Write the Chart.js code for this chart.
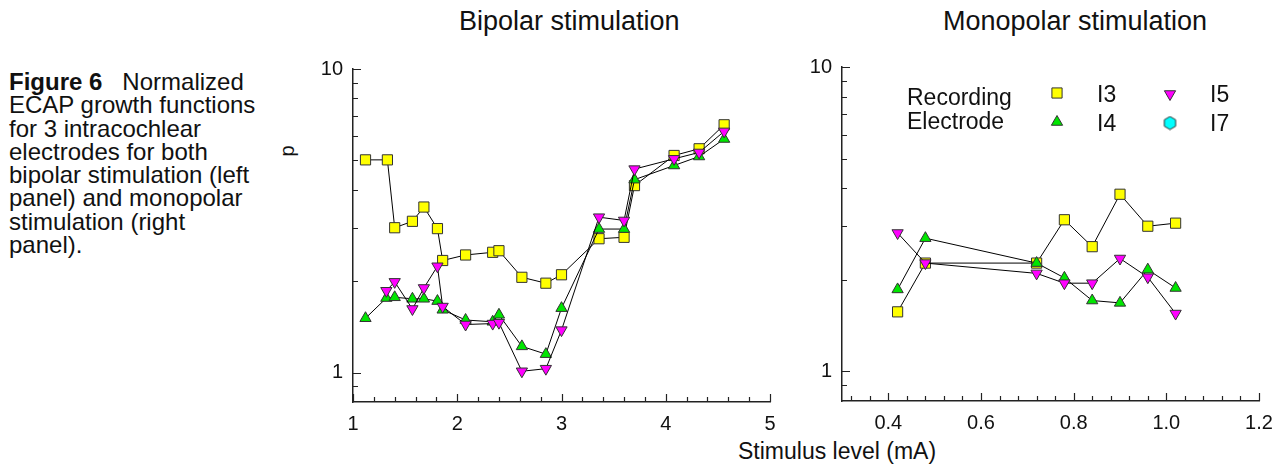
<!DOCTYPE html>
<html>
<head>
<meta charset="utf-8">
<script src="https://cdn.jsdelivr.net/npm/chart.js@4.4.1/dist/chart.umd.min.js"></script>
<style>
  html, body { margin: 0; padding: 0; background: #fff; }
  body { width: 1287px; height: 464px; position: relative; overflow: hidden;
         font-family: "Liberation Sans", Arial, sans-serif; color: #111; }
  .txt { position: absolute; white-space: nowrap; }
  #caption { left: 9px; top: 70px; font-size: 24px; line-height: 23.3px; }
  .ttl { top: 8px; font-size: 27px; line-height: 27px; }
  #xlabel { left: 738px; top: 440px; font-size: 23px; line-height: 23px; }
  #ylabel { left: 281px; top: 141px; font-size: 20px; line-height: 20px; transform: rotate(-90deg); }
  canvas { position: absolute; top: 0; }
</style>
</head>
<body>
<div id="caption" class="txt"><b>Figure 6</b>&nbsp;&nbsp; Normalized<br>ECAP growth functions<br>for 3 intracochlear<br>electrodes for both<br>bipolar stimulation (left<br>panel) and monopolar<br>stimulation (right<br>panel).</div>
<div class="txt ttl" style="left:459px">Bipolar stimulation</div>
<div class="txt ttl" style="left:943px">Monopolar stimulation</div>
<div id="xlabel" class="txt">Stimulus level (mA)</div>
<div id="ylabel" class="txt">p</div>
<canvas id="bipolar" style="left:270px" width="520" height="464"></canvas>
<canvas id="monopolar" style="left:790px" width="497" height="464"></canvas>
<script>
// Bipolar stimulation, stimulus level (mA)
const biI3x = [1.12, 1.33, 1.40, 1.57, 1.68, 1.81, 1.86, 2.08, 2.34, 2.40, 2.62, 2.85, 3.00, 3.36, 3.60, 3.70, 4.08, 4.32, 4.56];
const biI3  = [5.02, 5.02, 3.00, 3.15, 3.51, 2.98, 2.34, 2.44, 2.49, 2.52, 2.06, 1.97, 2.10, 2.76, 2.79, 4.13, 5.19, 5.46, 6.55];
const biI4x = [1.12, 1.32, 1.40, 1.57, 1.68, 1.81, 1.86, 2.08, 2.34, 2.40, 2.62, 2.85, 3.00, 3.36, 3.60, 3.70, 4.08, 4.32, 4.56];
const biI4  = [1.51, 1.76, 1.77, 1.75, 1.75, 1.72, 1.61, 1.49, 1.47, 1.55, 1.22, 1.15, 1.63, 2.97, 2.97, 4.32, 4.81, 5.15, 5.88];
const biI5x = [1.32, 1.40, 1.57, 1.68, 1.81, 1.86, 2.08, 2.34, 2.40, 2.62, 2.85, 3.00, 3.36, 3.60, 3.70, 4.08, 4.32, 4.56];
const biI5  = [1.86, 1.99, 1.62, 1.90, 2.24, 1.65, 1.44, 1.45, 1.46, 1.01, 1.03, 1.38, 3.25, 3.17, 4.68, 5.06, 5.31, 6.23];

// Monopolar stimulation
const monoX  = [0.42, 0.48, 0.72, 0.78, 0.84, 0.90, 0.96, 1.02];
const monoI3 = [1.57, 2.27, 2.27, 3.15, 2.57, 3.82, 3.00, 3.07];
const monoI4 = [1.86, 2.74, 2.27, 2.03, 1.71, 1.68, 2.16, 1.88];
const monoI5 = [2.85, 2.27, 2.10, 1.95, 1.95, 2.35, 2.04, 1.55];
const monoI7 = [];

// axis ticks
const yLabels    = [1, 10];
const yMinor     = [0.9, 2, 3, 4, 5, 6, 7, 8, 9];
const biXLabels  = [1, 2, 3, 4, 5];
const biXMinor   = [1.2, 1.4, 1.6, 1.8, 2.2, 2.4, 2.6, 2.8, 3.2, 3.4, 3.6, 3.8, 4.2, 4.4, 4.6, 4.8];
const monoXLabels = [0.4, 0.6, 0.8, 1.0, 1.2];
const monoXMinor  = [0.32, 0.36, 0.44, 0.48, 0.52, 0.56, 0.64, 0.68, 0.72, 0.76, 0.84, 0.88, 0.92, 0.96, 1.04, 1.08, 1.12, 1.16];

const electrodes = ['I3', 'I4', 'I5', 'I7'];

const FONT = '"Liberation Sans", Arial, sans-serif';
const INK = '#222';

// hexagon marker, Chart.js has no such point style
function hexagon(r, fill) {
  const c = document.createElement('canvas');
  c.width = c.height = Math.ceil(r * 2 + 2);
  const g = c.getContext('2d');
  const m = c.width / 2;
  g.beginPath();
  for (let i = 0; i < 6; i++) {
    const a = Math.PI / 3 * i + Math.PI / 6;
    g.lineTo(m + r * Math.cos(a), m + r * Math.sin(a));
  }
  g.closePath();
  g.fillStyle = fill;
  g.fill();
  g.strokeStyle = '#333';
  g.lineWidth = 1;
  g.stroke();
  return c;
}

const marker = {
  I3: { pointStyle: 'rect', pointRadius: 7.2, pointRotation: 0, pointBackgroundColor: '#ffff00' },
  I4: { pointStyle: 'triangle', pointRadius: 6.5, pointRotation: 0, pointBackgroundColor: '#00e600' },
  I5: { pointStyle: 'triangle', pointRadius: 6.5, pointRotation: 180, pointBackgroundColor: '#ff00ff' },
  I7: { pointStyle: hexagon(6.5, '#00ffff'), pointRadius: 6.5, pointRotation: 0, pointBackgroundColor: '#00ffff' }
};

function series(label, xs, ys, order) {
  return Object.assign({
    label: label,
    data: xs.map((x, i) => ({ x: x, y: ys[i] })),
    borderColor: '#000',
    borderWidth: 1,
    pointBorderColor: '#333',
    pointBorderWidth: 1,
    tension: 0,
    order: order
  }, marker[label]);
}

// inward tick marks on the left and bottom axes
const innerTicks = {
  id: 'innerTicks',
  afterDatasetsDraw(chart, args, opts) {
    const { ctx, chartArea: a, scales: { x, y } } = chart;
    ctx.save();
    ctx.strokeStyle = INK;
    ctx.lineWidth = 1.2;
    ctx.beginPath();
    const vx = (vals, len) => vals.forEach(v => {
      const p = Math.round(x.getPixelForValue(v)) + 0.5;
      ctx.moveTo(p, a.bottom); ctx.lineTo(p, a.bottom - len);
    });
    const vy = (vals, len) => vals.forEach(v => {
      const p = Math.round(y.getPixelForValue(v)) + 0.5;
      ctx.moveTo(a.left, p); ctx.lineTo(a.left + len, p);
    });
    vx(opts.xMajor, 8); vx(opts.xMinor, 5);
    vy(opts.yMajor, 8); vy(opts.yMinor, 5);
    ctx.stroke();
    ctx.restore();
  }
};

// "Recording Electrode" key in the monopolar panel
const electrodeKey = {
  id: 'electrodeKey',
  afterDraw(chart) {
    const { ctx } = chart;
    const left = chart.canvas.offsetLeft;
    ctx.save();
    ctx.font = '23px ' + FONT;
    ctx.fillStyle = '#111';
    ctx.textBaseline = 'alphabetic';
    ctx.fillText('Recording', 907 - left, 105);
    ctx.fillText('Electrode', 907 - left, 128.5);
    const slots = [[1057, 93, 102], [1057, 122, 131], [1170, 94, 102], [1170, 123, 131]];
    chart.data.datasets.forEach(ds => {
      const k = electrodes.indexOf(ds.label);
      const [sx, sy, base] = slots[k];
      ctx.fillStyle = ds.pointBackgroundColor;
      ctx.strokeStyle = ds.pointBorderColor;
      ctx.lineWidth = 1;
      Chart.helpers.drawPoint(ctx, {
        pointStyle: ds.pointStyle, rotation: ds.pointRotation,
        radius: ds.pointRadius, borderWidth: 1
      }, sx - left, sy);
      ctx.fillStyle = '#111';
      ctx.fillText(ds.label, sx + 40 - left, base);
    });
    ctx.restore();
  }
};

function options(cfg) {
  return {
    responsive: false,
    animation: false,
    layout: { padding: { top: cfg.top, right: cfg.right, left: 0, bottom: 0 } },
    plugins: {
      legend: { display: false },
      tooltip: { enabled: false },
      innerTicks: { xMajor: cfg.xLabels, xMinor: cfg.xMinor, yMajor: yLabels, yMinor: yMinor }
    },
    scales: {
      x: {
        type: 'linear',
        min: cfg.xMin, max: cfg.xMax,
        afterBuildTicks: s => { s.ticks = cfg.xLabels.map(v => ({ value: v })); },
        afterFit: s => { s.height = cfg.xHeight; },
        grid: { display: false, drawTicks: false },
        border: { display: true, color: INK, width: 1.5 },
        ticks: {
          color: '#111', padding: 10, maxRotation: 0, autoSkip: false,
          font: { family: FONT, size: 20 },
          callback: cfg.xFormat
        }
      },
      y: {
        type: 'logarithmic',
        min: 0.8, max: 10,
        afterBuildTicks: s => { s.ticks = yLabels.map(v => ({ value: v })); },
        afterFit: s => { s.width = cfg.yWidth; },
        grid: { display: false, drawTicks: false },
        border: { display: true, color: INK, width: 1.5 },
        ticks: {
          color: '#111', padding: 10, autoSkip: false,
          font: { family: FONT, size: 20 },
          callback: v => String(v)
        }
      }
    }
  };
}

new Chart(document.getElementById('bipolar'), {
  type: 'line',
  data: {
    datasets: [
      series('I3', biI3x, biI3, 3),
      series('I4', biI4x, biI4, 2),
      series('I5', biI5x, biI5, 1)
    ]
  },
  options: options({
    top: 69, right: 20, xHeight: 62, yWidth: 83,
    xMin: 1, xMax: 5, xLabels: biXLabels, xMinor: biXMinor,
    xFormat: v => String(v)
  }),
  plugins: [innerTicks]
});

new Chart(document.getElementById('monopolar'), {
  type: 'line',
  data: {
    datasets: [
      series('I3', monoX, monoI3, 4),
      series('I4', monoX, monoI4, 3),
      series('I5', monoX, monoI5, 2),
      series('I7', [], monoI7, 1)
    ]
  },
  options: options({
    top: 67, right: 28, xHeight: 63, yWidth: 52,
    xMin: 0.3, xMax: 1.2, xLabels: monoXLabels, xMinor: monoXMinor,
    xFormat: v => v.toFixed(1)
  }),
  plugins: [innerTicks, electrodeKey]
});
</script>
</body>
</html>
